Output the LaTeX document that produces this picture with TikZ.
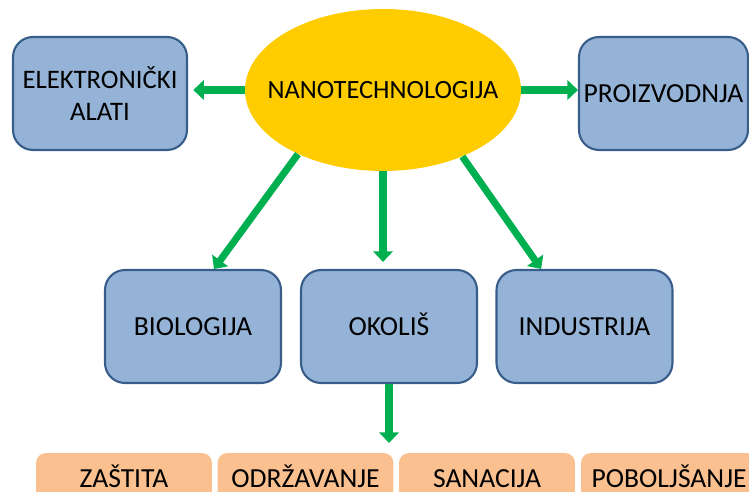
\documentclass[tikz,border=0pt]{standalone}
\usepackage{fontspec}
\setmainfont{Carlito}
\usetikzlibrary{arrows.meta,shapes.geometric}
\definecolor{plava}{HTML}{95B3D7}
\definecolor{rub}{HTML}{385D8A}
\definecolor{narancasta}{HTML}{FAC090}
\definecolor{zelena}{HTML}{00B050}
\definecolor{zuta}{HTML}{FFCC00}

\begin{document}
\begin{tikzpicture}[x=0.02cm, y=-0.02cm,
  every node/.style={font=\fontsize{15.7}{18}\selectfont, text=black},
  glavni/.style={ellipse, fill=zuta, minimum width=5.52cm, minimum height=3.24cm, inner sep=0pt,
                 font=\fontsize{15}{18}\selectfont},
  kutija/.style={rectangle, draw=rub, line width=1.2pt, fill=plava, rounded corners=0.4cm,
                 minimum width=3.52cm, minimum height=2.26cm, inner sep=1pt, align=center},
  jedan/.style={text height=10.1pt, text depth=0pt},
  podrucje/.style={rectangle, fill=narancasta, rounded corners=0.2cm, jedan,
                   minimum width=3.52cm, minimum height=1.02cm, inner sep=0pt},
  strelica/.style={-{Triangle[width=11pt,length=6pt]}, line width=4pt, draw=zelena}
]
  \path[use as bounding box, clip] (0,0) rectangle (749,492);

  % Sredina
  \node[glavni] (nano) at (383,90) {\makebox[0pt]{NANOTECHNOLOGIJA}};

  % Gornji red
  \node[kutija, minimum width=3.48cm, font=\fontsize{15.2}{18}\selectfont] (elek) at (100,93.5) {ELEKTRONIČKI\\ALATI};
  \node[kutija, jedan, minimum width=3.38cm] (proiz) at (663.5,93.5) {PROIZVODNJA};

  % Srednji red
  \node[kutija, jedan] (biol) at (193,326.5) {BIOLOGIJA};
  \node[kutija, jedan] (okol) at (389,326.5) {OKOLIŠ};
  \node[kutija, jedan] (indu) at (584.5,326.5) {INDUSTRIJA};

  % Donji red
  \node[podrucje] (zast) at (124,478.5) {ZAŠTITA};
  \node[podrucje] (odrz) at (305.5,478.5) {ODRŽAVANJE};
  \node[podrucje] (sana) at (487,478.5) {SANACIJA};
  \node[podrucje] (pobo) at (669,478.5) {POBOLJŠANJE};

  % Strelice
  \draw[strelica, shorten >=3pt] (nano.west) -- (nano.west -| elek.east);
  \draw[strelica] (nano.east) -- (nano.east -| proiz.west);
  \draw[strelica] (nano.217) -- (biol.70);
  \draw[strelica, shorten >=4pt] (nano.south) -- (nano.south |- okol.north);
  \draw[strelica] (nano.320) -- (indu.127);
  \draw[strelica, shorten >=5.5pt] (okol.south) -- (okol.south |- zast.north);
\end{tikzpicture}
\end{document}
